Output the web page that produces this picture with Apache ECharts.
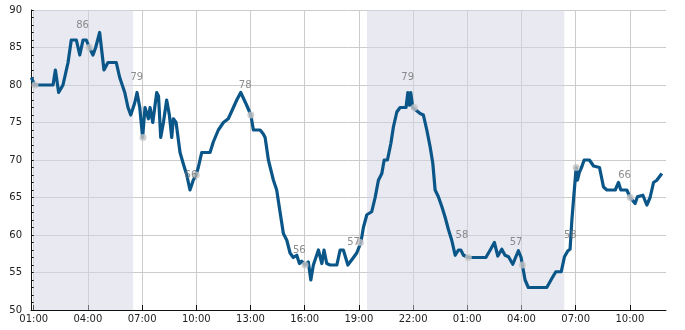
<!DOCTYPE html>
<html><head><meta charset="utf-8">
<script src="https://cdn.jsdelivr.net/npm/echarts@6/dist/echarts.min.js"></script>
<style>html,body{margin:0;padding:0;background:#fff}#c{width:685px;height:330px}</style>
</head><body><div id="c"></div>
<script>
// hours since 00:00 of day 1
const lineTimes = [
 0.87,1.05,2.07,2.20,2.38,2.62,2.90,3.08,3.36,3.55,
 3.73,3.91,4.08,4.28,4.43,4.65,4.89,5.11,5.57,5.76,
 6.04,6.22,6.37,6.59,6.72,6.87,7.03,7.16,7.35,7.44,
 7.59,7.81,7.91,8.03,8.18,8.36,8.51,8.64,8.73,8.88,
 9.10,9.28,9.47,9.65,9.83,9.99,10.11,10.30,10.76,10.94,
 11.22,11.50,11.77,11.96,12.24,12.46,12.79,13.02,13.16,13.53,
 13.70,13.81,13.99,14.27,14.45,14.64,14.82,15.01,15.19,15.37,
 15.56,15.71,15.84,16.02,16.20,16.34,16.48,16.76,16.95,17.07,
 17.22,17.41,17.78,17.96,18.14,18.39,18.70,18.88,19.11,19.25,
 19.44,19.71,19.90,20.08,20.27,20.40,20.58,20.77,20.91,21.10,
 21.28,21.61,21.71,21.80,21.87,21.98,22.07,22.39,22.57,22.76,
 22.94,23.09,23.22,23.40,23.59,23.77,23.96,24.14,24.33,24.51,
 24.64,24.79,25.06,26.03,26.27,26.50,26.69,26.91,27.09,27.28,
 27.52,27.69,27.83,27.98,28.05,28.20,28.38,29.40,29.68,29.90,
 30.20,30.38,30.57,30.69,30.79,30.88,30.97,31.03,31.10,31.21,
 31.34,31.47,31.76,31.99,32.32,32.54,32.73,33.19,33.37,33.50,
 33.83,34.02,34.29,34.42,34.72,34.94,35.12,35.31,35.49,35.77
];
const lineVals = [
 81,80,80,82,79,80,83,86,86,84,
 86,86,85,84,85,87,82,83,83,81,
 79,77,76,77.6,79,77,73,77,75.5,77,
 75,79,78.5,73,75,78,76,73,75.5,75,
 71,69.5,68,66,67.3,68,69,71,71,72.4,
 74,75,75.5,76.5,78,79,77.3,76,74,74,
 73.5,73,70,67.3,66,63,60.2,59.3,57.6,57,
 57.3,56.2,56.5,56,56.4,54,56,58,56.2,58,
 56.2,56,56,58,58,56,57,57.6,59,61,
 62.7,63.1,65,67.3,68.2,70,70,72.2,74.4,76.4,
 77,77,79,77.3,79,77,77,76.2,76,74,
 71.8,69.6,66,65.1,63.8,62.4,60.7,59.3,57.3,58,
 58,57.3,57,57,58,59,57.2,58.1,57.3,57.1,
 56.1,57.1,57.9,57,56,54,53,53,54.2,55.1,
 55.1,57.1,57.9,58.1,62,64.7,67.3,69,67.3,68.4,
 69.1,70,70,69.2,69,66.4,66,66,67,66,
 66,65,64.2,65.1,65.3,64,65,67,67.3,68.2
];
const dotTimes = [1.07,4.07,7.05,10.0,13.02,16.02,19.08,22.07,25.06,28.05,31.03,34.02];
const dotVals  = [80,85,73,68,76,56,59,77,57,56,69,65];
const labelTimes = [4,7,10,13,16,19,22,25,28,31,34];
const labelVals  = [86,79,66,78,56,57,79,58,57,58,66];
const tickHours = [1,4,7,10,13,16,19,22,25,28,31,34];
const nightSpans = [[0.98,6.5],[19.45,30.37]];

const FONT = 'DejaVu Sans';
const lineData = lineTimes.map((t,i)=>[t,lineVals[i]]);
const dotData = dotTimes.map((t,i)=>[t,dotVals[i]]);
const labelData = labelTimes.map((t,i)=>[t,labelVals[i]+2,labelVals[i]]);
const pad = n => (n<10?'0':'')+n;

const chart = echarts.init(document.getElementById('c'),null,{renderer:'canvas'});
chart.setOption({
  animation:false,
  backgroundColor:'#ffffff',
  grid:{left:31,right:19,top:10,bottom:20,containLabel:false},
  xAxis:{
    type:'value',min:0.85,max:36,
    axisLine:{show:true,onZero:false,lineStyle:{color:'#111',width:1}},
    axisTick:{show:true,inside:true,length:5,lineStyle:{color:'#111'},customValues:tickHours},
    axisLabel:{customValues:tickHours,color:'#222',fontFamily:FONT,fontSize:10,margin:4,
      formatter:v=>pad(Math.round(v)%24)+':00'},
    splitLine:{show:true,lineStyle:{color:'#cccccc',width:1}}
  },
  yAxis:{
    type:'value',min:50,max:90,interval:5,
    axisLine:{show:true,lineStyle:{color:'#111',width:1}},
    axisTick:{show:true,inside:true,length:3,lineStyle:{color:'#111'}},
    minorTick:{show:true,splitNumber:5,length:3,lineStyle:{color:'#111'}},
    axisLabel:{color:'#222',fontFamily:FONT,fontSize:10,margin:9},
    splitLine:{show:true,lineStyle:{color:'#cccccc',width:1}}
  },
  series:[
    {type:'line',data:[],z:1,silent:true,
     markArea:{silent:true,itemStyle:{color:'rgba(212,212,228,0.5)'},
       data:nightSpans.map(s=>[{xAxis:s[0]},{xAxis:s[1]}])}},
    {type:'line',data:lineData,showSymbol:false,z:3,
     lineStyle:{color:'#0b5688',width:3.2,join:'round'}},
    {type:'scatter',data:dotData,symbolSize:7,z:4,
     itemStyle:{color:'#c4c4c4'}},
    {type:'scatter',data:labelData,symbolSize:0,z:5,
     label:{show:true,position:'left',distance:-1,color:'#707070',fontFamily:FONT,fontSize:10,
       formatter:p=>String(p.data[2])}}
  ]
});
</script></body></html>
